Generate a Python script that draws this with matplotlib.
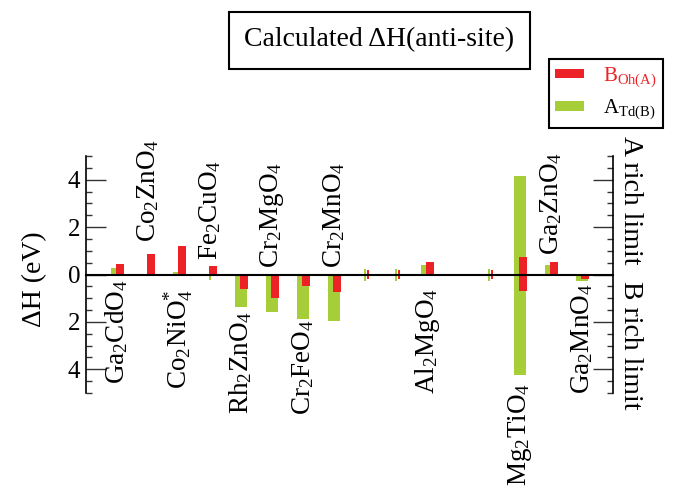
import matplotlib
matplotlib.use('Agg')
import matplotlib.pyplot as plt
from matplotlib.ticker import MultipleLocator, FixedLocator, FuncFormatter
from matplotlib.patches import Rectangle

plt.rcParams['font.family'] = ['Liberation Serif', 'DejaVu Serif']
plt.rcParams['mathtext.fontset'] = 'custom'
plt.rcParams['mathtext.rm'] = 'Liberation Serif'
plt.rcParams['mathtext.it'] = 'Liberation Serif:italic'
plt.rcParams['mathtext.bf'] = 'Liberation Serif:bold'

# category slots 1..16 (slot 12 is empty, 9/10/13 have no label)
slots = list(range(1, 17))
compounds = ['Ga$_\\mathrm{2}$CdO$_\\mathrm{4}$', 'Co$_\\mathrm{2}$ZnO$_\\mathrm{4}$',
             'Co$_\\mathrm{2}$NiO$_\\mathrm{4}^\\mathrm{*}$', 'Fe$_\\mathrm{2}$CuO$_\\mathrm{4}$',
             'Rh$_\\mathrm{2}$ZnO$_\\mathrm{4}$', 'Cr$_\\mathrm{2}$MgO$_\\mathrm{4}$',
             'Cr$_\\mathrm{2}$FeO$_\\mathrm{4}$', 'Cr$_\\mathrm{2}$MnO$_\\mathrm{4}$',
             None, None, 'Al$_\\mathrm{2}$MgO$_\\mathrm{4}$', None, None,
             'Mg$_\\mathrm{2}$TiO$_\\mathrm{4}$', 'Ga$_\\mathrm{2}$ZnO$_\\mathrm{4}$',
             'Ga$_\\mathrm{2}$MnO$_\\mathrm{4}$']

# A_Td(B) (green): upper = A rich limit, lower = B rich limit
green_hi = [0.28, 0, 0.10, 0, 0, 0, 0, 0, 0.25, 0.25, 0.39, 0, 0.25, 4.17, 0.39, 0]
green_lo = [0, 0, 0, -0.25, -1.39, -1.57, -1.89, -1.96, -0.28, -0.28, 0, 0, -0.28, -4.24, 0, -0.28]
# B_Oh(A) (red)
red_hi = [0.45, 0.86, 1.21, 0.37, 0, 0, 0, 0, 0.18, 0.18, 0.54, 0, 0.18, 0.75, 0.54, 0]
red_lo = [0, 0, 0, 0, -0.60, -1.01, -0.49, -0.72, -0.18, -0.18, 0, 0, -0.18, -0.69, 0, -0.21]

# where each compound name starts (data y)
label_y = [-4.61, 1.39, -4.82, 0.60, -5.87, 0.28, -5.94, 0.28, 0, 0, -5.03, 0, 0, -8.93, 0.84, -5.03]

red = '#ec2227'
green = '#a6ce39'
thin = [9, 10, 13]
green_w = [0.04 if s in thin or s == 4 else 0.4 for s in slots]
red_w = [0.07 if s in thin else 0.26 for s in slots]

fig = plt.figure(figsize=(6.73, 4.87), dpi=100)
ax = fig.add_axes([86 / 673, 1 - 393 / 487, 527 / 673, 237 / 487])

g = ax.bar(slots, [h - l for h, l in zip(green_hi, green_lo)], bottom=green_lo,
           width=green_w, color=green, label='A$_\\mathrm{Td(B)}$')
r = ax.bar([s + 0.1 for s in slots], [h - l for h, l in zip(red_hi, red_lo)], bottom=red_lo,
           width=red_w, color=red, label='B$_\\mathrm{Oh(A)}$')

ax.set_xlim(0, 17)
ax.set_ylim(-5, 5)
ax.spines['top'].set_visible(False)
ax.spines['bottom'].set_position(('data', 0))
ax.spines['bottom'].set_linewidth(1.5)
ax.spines['left'].set_linewidth(1.2)
ax.spines['right'].set_linewidth(1.2)
ax.tick_params(axis='x', bottom=False, labelbottom=False)
ax.yaxis.set_major_locator(FixedLocator([-4, -2, 0, 2, 4]))
ax.yaxis.set_minor_locator(MultipleLocator(0.5))
ax.yaxis.set_major_formatter(FuncFormatter(lambda v, p: f'{abs(v):g}'))
ax.tick_params(axis='y', which='major', direction='in', length=14.4, width=1,
               right=True, labelsize=18, pad=4, color='#333333')
ax.tick_params(axis='y', which='minor', direction='in', length=4.3, width=1,
               right=True, color='#333333')

for s, name, y in zip(slots, compounds, label_y):
    if name is None:
        continue
    ax.text(s, y, name, rotation=90, rotation_mode='anchor', ha='left', va='center',
            fontsize=19.5, clip_on=False)

ax.set_ylabel('ΔH (eV)', fontsize=20)
ax.yaxis.set_label_coords(-0.074, 0.48)

ax.text(17.58, 3.14, 'A rich limit', rotation=-90, ha='center', va='center',
        fontsize=20, clip_on=False)
ax.text(17.58, -2.98, 'B rich limit', rotation=-90, ha='center', va='center',
        fontsize=20, clip_on=False)

# title box
fig.add_artist(Rectangle((229 / 673, 1 - 69 / 487), 301 / 673, 57 / 487,
                         transform=fig.transFigure, fill=False, lw=1.5, ec='k'))
fig.text(379 / 673, 1 - 40 / 487, 'Calculated ΔH(anti-site)', ha='center', va='center',
         fontsize=20)

leg = fig.legend([r, g], ['B$_\\mathrm{Oh(A)}$', 'A$_\\mathrm{Td(B)}$'], loc='upper left',
                 bbox_to_anchor=(549 / 673, 1 - 59 / 487), fancybox=False, edgecolor='k',
                 framealpha=1, fontsize=15, handlelength=1.4, handleheight=0.35,
                 borderpad=0.3, labelspacing=0.4, handletextpad=0.9, borderaxespad=0,
                 labelcolor=[red, 'k'])
leg.get_frame().set_linewidth(1.5)

fig.savefig('out.png', dpi=100)
